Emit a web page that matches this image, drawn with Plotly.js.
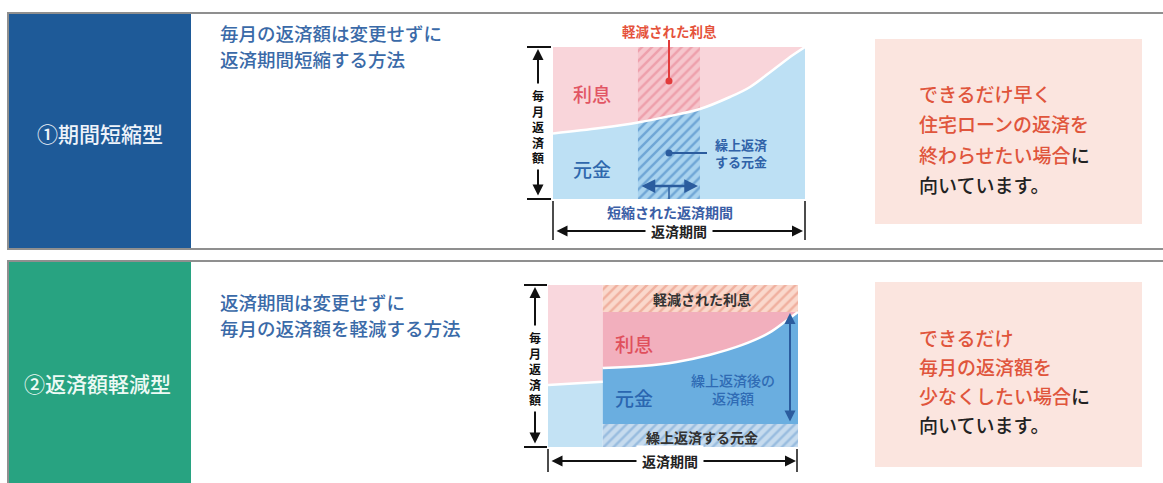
<!DOCTYPE html>
<html><head><meta charset="utf-8">
<script src="https://cdn.plot.ly/plotly-3.0.1.min.js"></script>
<style>html,body{margin:0;padding:0;background:#fff;}#chart{width:1163px;height:483px;}</style>
</head><body><div id="chart"></div>
<script>
// ---------- DATA ----------
// ① 期間短縮型 : repayment term (% of original) vs. monthly payment (% ; principal part below curve)
const c1_term      = [0, 18.7, 33.7, 46.4, 58.3, 70.2, 78.2, 87.3, 95.2, 100];
const c1_principal = [43.1, 46.7, 50.3, 54.6, 59.2, 67.1, 73.7, 84.9, 94.7, 100];
const c1_total = 100;
const c1_cutStart = 33.7;   // 短縮された返済期間 (start)
const c1_cutEnd   = 58.3;   // 短縮された返済期間 (end)

// ② 返済額軽減型
const c2_before_term      = [0, 11, 21.9];
const c2_before_principal = [38.3, 39.3, 40.3];
const c2_after_term       = [21.9, 37.8, 51.4, 64.5, 77.7, 88.4, 95.2, 100];
const c2_after_principal  = [48.8, 50.0, 52.5, 56.8, 63.0, 70.4, 77.8, 83.3];
const c2_prepaid  = 14.2;   // 繰上返済する元金
const c2_newTotal = 83.3;   // 繰上返済後の返済額 (top)
const c2_total    = 100;

// Text
const labels = {
  type1: "①期間短縮型", type2: "②返済額軽減型",
  desc1: ["毎月の返済額は変更せずに", "返済期間短縮する方法"],
  desc2: ["返済期間は変更せずに", "毎月の返済額を軽減する方法"]
};

// ---------- HELPERS ----------
const W = 1163, H = 483;
const P = x => x / W, Q = y => 1 - y / H;
const F = "Noto Sans CJK JP, Noto Sans, sans-serif";
const RED = "#e0553c", BLUE_T = "#2f62a8", DARK = "#333333";

function txt(text, x, y, size, color, o) {
  return Object.assign({text, x: P(x), y: Q(y), xref: "paper", yref: "paper", showarrow: false,
    xanchor: "center", yanchor: "middle", font: {family: F, size, color, weight: 700}}, o || {});
}
function arrow(x1, y1, x2, y2, color, w, dbl) {
  return {text: "", x: P(x2), y: Q(y2), xref: "paper", yref: "paper", ax: x1 - x2, ay: y1 - y2,
    axref: "pixel", ayref: "pixel", showarrow: true, arrowhead: 2, arrowsize: 1.1, arrowwidth: w,
    arrowcolor: color, arrowside: dbl ? "end+start" : "end", startarrowhead: 2, startarrowsize: 1.1,
    standoff: 0, startstandoff: 0};
}
function line(x0, y0, x1, y1, color, w) {
  return {type: "line", xref: "paper", yref: "paper", x0: P(x0), y0: Q(y0), x1: P(x1), y1: Q(y1),
    line: {color, width: w}, layer: "above"};
}
function rect(x0, y0, x1, y1, fill, lc, lw) {
  return {type: "rect", xref: "paper", yref: "paper", x0: P(x0), y0: Q(y1), x1: P(x1), y1: Q(y0),
    fillcolor: fill, line: {color: lc || fill, width: lw || 0}, layer: "below"};
}
function dot(x, y, r, color) {
  return {type: "circle", xref: "paper", yref: "paper", x0: P(x - r), x1: P(x + r), y0: Q(y + r), y1: Q(y - r),
    fillcolor: color, line: {width: 0}, layer: "above"};
}

// ---------- TRACES ----------
const base = {mode: "lines", hoverinfo: "skip", showlegend: false};
const bandIdx = c1_term.map((v, i) => i).filter(i => c1_term[i] >= c1_cutStart && c1_term[i] <= c1_cutEnd);
const bandX = bandIdx.map(i => c1_term[i]), bandY = bandIdx.map(i => c1_principal[i]);

const traces = [
  // chart 1
  Object.assign({}, base, {x: c1_term, y: c1_principal, xaxis: "x", yaxis: "y", fill: "tozeroy",
    fillcolor: "#bde0f4", line: {width: 0, shape: "spline"}}),
  Object.assign({}, base, {x: c1_term, y: c1_term.map(() => c1_total), xaxis: "x", yaxis: "y", fill: "tonexty",
    fillcolor: "#f9d5da", line: {width: 0}}),
  Object.assign({}, base, {x: bandX, y: bandY, xaxis: "x", yaxis: "y", fill: "tozeroy", fillcolor: "#a9d3ef",
    fillpattern: {shape: "/", bgcolor: "#a9d3ef", fgcolor: "#6fa6d6", size: 7, solidity: 0.35},
    line: {width: 0, shape: "spline"}}),
  Object.assign({}, base, {x: bandX, y: bandX.map(() => c1_total), xaxis: "x", yaxis: "y", fill: "tonexty",
    fillcolor: "#f6c6cd",
    fillpattern: {shape: "/", bgcolor: "#f6c6cd", fgcolor: "#eea0ac", size: 7, solidity: 0.35},
    line: {width: 0}}),
  Object.assign({}, base, {x: c1_term, y: c1_principal, xaxis: "x", yaxis: "y",
    line: {color: "#ffffff", width: 2.5, shape: "spline"}}),
  // chart 2
  Object.assign({}, base, {x: c2_before_term, y: c2_before_principal, xaxis: "x2", yaxis: "y2", fill: "tozeroy",
    fillcolor: "#c3e2f4", line: {width: 0}}),
  Object.assign({}, base, {x: c2_before_term, y: c2_before_term.map(() => c2_total), xaxis: "x2", yaxis: "y2",
    fill: "tonexty", fillcolor: "#f9d7dd", line: {width: 0}}),
  Object.assign({}, base, {x: [c2_after_term[0], c2_after_term[c2_after_term.length - 1]], y: [c2_prepaid, c2_prepaid],
    xaxis: "x2", yaxis: "y2", fill: "tozeroy", fillcolor: "#c6dbee",
    fillpattern: {shape: "/", bgcolor: "#c6dbee", fgcolor: "#98bcdf", size: 7, solidity: 0.35}, line: {width: 0}}),
  Object.assign({}, base, {x: c2_after_term, y: c2_after_principal, xaxis: "x2", yaxis: "y2", fill: "tonexty",
    fillcolor: "#6aaee0", line: {width: 0, shape: "spline"}}),
  Object.assign({}, base, {x: c2_after_term, y: c2_after_term.map(() => c2_newTotal), xaxis: "x2", yaxis: "y2",
    fill: "tonexty", fillcolor: "#f2afbd", line: {width: 0}}),
  Object.assign({}, base, {x: [c2_after_term[0], c2_after_term[c2_after_term.length - 1]], y: [c2_total, c2_total],
    xaxis: "x2", yaxis: "y2", fill: "tonexty", fillcolor: "#fad8cc",
    fillpattern: {shape: "/", bgcolor: "#fad8cc", fgcolor: "#f0b09f", size: 7, solidity: 0.35}, line: {width: 0}}),
  Object.assign({}, base, {x: c2_before_term, y: c2_before_principal, xaxis: "x2", yaxis: "y2",
    line: {color: "#ffffff", width: 2.5}}),
  Object.assign({}, base, {x: c2_after_term, y: c2_after_principal, xaxis: "x2", yaxis: "y2",
    line: {color: "#ffffff", width: 2.5, shape: "spline"}})
];

// ---------- SHAPES ----------
const shapes = [
  rect(8, 13, 1175, 249, "#ffffff", "#8f8f8f", 2),
  rect(8, 261, 1175, 495, "#ffffff", "#8f8f8f", 2),
  rect(9, 14, 191, 248, "#1e5a98"),
  rect(9, 262, 191, 490, "#28a381"),
  rect(875, 39, 1142, 224, "#fbe5df"),
  rect(875, 282, 1142, 467, "#fbe5df"),
  // chart 1 axis ticks
  line(527, 47, 551, 47, "#111", 2), line(527, 199, 551, 199, "#111", 2),
  line(553, 201, 553, 240, "#111", 1.5), line(805, 201, 805, 240, "#111", 1.5),
  // chart 1 pointers
  line(669, 40, 669, 81, "#e23b3b", 2), dot(669, 81, 3.5, "#e23b3b"),
  line(669, 153, 707, 153, "#2b5c9e", 2), dot(669, 153, 3.5, "#2b5c9e"),
  line(669, 186, 669, 199, "#2b5c9e", 1.5),
  // chart 2 ticks
  line(524, 285, 547, 285, "#111", 2), line(524, 447, 547, 447, "#111", 2),
  line(548, 449, 548, 472, "#111", 1.5), line(797, 449, 797, 472, "#111", 1.5)
];

// ---------- ANNOTATIONS ----------
const mid = {family: F, size: 18.5, color: "#3a6aa8", weight: 500};
const boxF = (c) => ({family: F, size: 19, color: c, weight: 500});
const ann = [
  txt(labels.type1, 100, 133, 21, "#eef3fa", {font: {family: F, size: 21, color: "#eef3fa", weight: 500}}),
  txt(labels.type2, 97, 383, 21, "#eefaf5", {font: {family: F, size: 21, color: "#eefaf5", weight: 500}}),
  txt(labels.desc1[0], 218, 33, 18.5, "", {xanchor: "left", font: mid}),
  txt(labels.desc1[1], 218, 59, 18.5, "", {xanchor: "left", font: mid}),
  txt(labels.desc2[0], 218, 302, 18.5, "", {xanchor: "left", font: mid}),
  txt(labels.desc2[1], 218, 328, 18.5, "", {xanchor: "left", font: mid}),
  // right boxes
  txt("できるだけ早く", 917, 94, 19, RED, {xanchor: "left", font: boxF(RED)}),
  txt("住宅ローンの返済を", 917, 124, 19, RED, {xanchor: "left", font: boxF(RED)}),
  txt("終わらせたい場合<span style='color:#222222'>に</span>", 917, 154, 19, RED, {xanchor: "left", font: boxF(RED)}),
  txt("向いています。", 917, 184, 19, "#222", {xanchor: "left", font: boxF("#222222")}),
  txt("できるだけ", 917, 337, 19, RED, {xanchor: "left", font: boxF(RED)}),
  txt("毎月の返済額を", 917, 366, 19, RED, {xanchor: "left", font: boxF(RED)}),
  txt("少なくしたい場合<span style='color:#222222'>に</span>", 917, 395, 19, RED, {xanchor: "left", font: boxF(RED)}),
  txt("向いています。", 917, 424, 19, "#222", {xanchor: "left", font: boxF("#222222")}),
  // chart 1 arrows + texts
  arrow(538, 197, 538, 49, "#111", 2, true),
  txt("毎<br>月<br>返<br>済<br>額", 538, 127, 12, "#111", {bgcolor: "#ffffff", borderpad: 3}),
  arrow(555, 231, 803, 231, "#111", 2, true),
  txt("返済期間", 679, 231, 14, "#222", {bgcolor: "#ffffff", borderpad: 5}),
  arrow(640, 186, 698, 186, "#2b5c9e", 2.5, true),
  txt("軽減された利息", 669, 31, 13.5, "#e5533c"),
  txt("利息", 592, 93, 19, "#e25564", {font: {family: F, size: 19, color: "#e25564", weight: 500}}),
  txt("元金", 592, 168, 19, "#2f68ad", {font: {family: F, size: 19, color: "#2f68ad", weight: 500}}),
  txt("繰上返済<br>する元金", 741, 153.5, 13, BLUE_T),
  txt("短縮された返済期間", 670, 212, 14, "#3a5ea6"),
  // chart 2 arrows + texts
  arrow(535, 445, 535, 287, "#111", 2, true),
  txt("毎<br>月<br>返<br>済<br>額", 535, 368, 12, "#111", {bgcolor: "#ffffff", borderpad: 3}),
  arrow(550, 461, 796, 461, "#111", 2, true),
  txt("返済期間", 670, 461, 14, "#222", {bgcolor: "#ffffff", borderpad: 5}),
  arrow(790, 423, 790, 313, "#2b5c9e", 2, true),
  txt("軽減された利息", 702, 299, 14, DARK),
  txt("利息", 634, 343, 19, "#e0505c", {font: {family: F, size: 19, color: "#e0505c", weight: 500}}),
  txt("元金", 634, 397, 19, "#2a66b0", {font: {family: F, size: 19, color: "#2a66b0", weight: 500}}),
  txt("繰上返済後の<br>返済額", 733, 389, 14, "#2f6bb4", {font: {family: F, size: 14, color: "#2f6bb4", weight: 500}}),
  txt("繰上返済する元金", 702, 437, 14, DARK)
];

const ax = (dom) => ({domain: dom, range: [0, 100], visible: false, fixedrange: true});
const layout = {
  width: W, height: H, margin: {l: 0, r: 0, t: 0, b: 0},
  paper_bgcolor: "#ffffff", plot_bgcolor: "rgba(0,0,0,0)", showlegend: false,
  xaxis: Object.assign(ax([P(553), P(805)]), {anchor: "y"}),
  yaxis: Object.assign(ax([Q(199), Q(47)]), {anchor: "x"}),
  xaxis2: Object.assign(ax([P(548), P(798)]), {anchor: "y2"}),
  yaxis2: Object.assign(ax([Q(447), Q(285)]), {anchor: "x2"}),
  shapes, annotations: ann, font: {family: F}
};
Plotly.newPlot("chart", traces, layout, {staticPlot: true, displayModeBar: false});
</script></body></html>
